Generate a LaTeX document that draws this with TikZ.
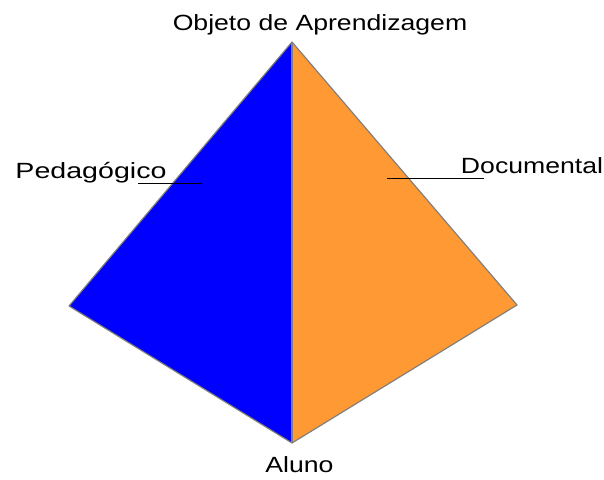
\documentclass[tikz,border=0pt]{standalone}
\usepackage{fontspec}
\setmainfont{Liberation Sans}
\newfontfamily\widesans[FakeStretch=1.21]{Liberation Sans}
\newfontfamily\widersans[FakeStretch=1.3]{Liberation Sans}
\definecolor{pblue}{HTML}{0000FF}
\definecolor{porange}{HTML}{FF9933}
\definecolor{edgegray}{HTML}{808080}
\begin{document}
\begin{tikzpicture}[x=1pt,y=-1pt,
  lbl/.style={font=\widesans\fontsize{22}{26}\selectfont, inner sep=0pt, anchor=base},
  edge/.style={draw=edgegray, line width=1.2pt, line join=round},
  lead/.style={draw=black, line width=0.9pt}]
\useasboundingbox (0,0) rectangle (604,479);
\coordinate (T) at (292,42);
\coordinate (B) at (292,443);
\coordinate (L) at (69,306);
\coordinate (R) at (517,305);
\fill[pblue] (T) -- (L) -- (B) -- cycle;
\fill[porange] (T) -- (R) -- (B) -- cycle;
\draw[edge] (T) -- (L) -- (B) -- (R) -- cycle;
\draw[edge] (T) -- (B);
\node[lbl] (obj) at (320,30) {Objeto de Aprendizagem};
\node[lbl, font=\widersans\fontsize{22}{26}\selectfont] (ped) at (91,178) {Pedagógico};
\node[lbl] (doc) at (532,173) {Documental};
\node[lbl] (alu) at (299.5,472) {Aluno};
\coordinate (p1) at (138,183);
\coordinate (p2) at (202,183);
\coordinate (d1) at (387,178.5);
\coordinate (d2) at (484,178.5);
\draw[lead] (p1) -- (p2);
\draw[lead] (d1) -- (d2);
\end{tikzpicture}
\end{document}
